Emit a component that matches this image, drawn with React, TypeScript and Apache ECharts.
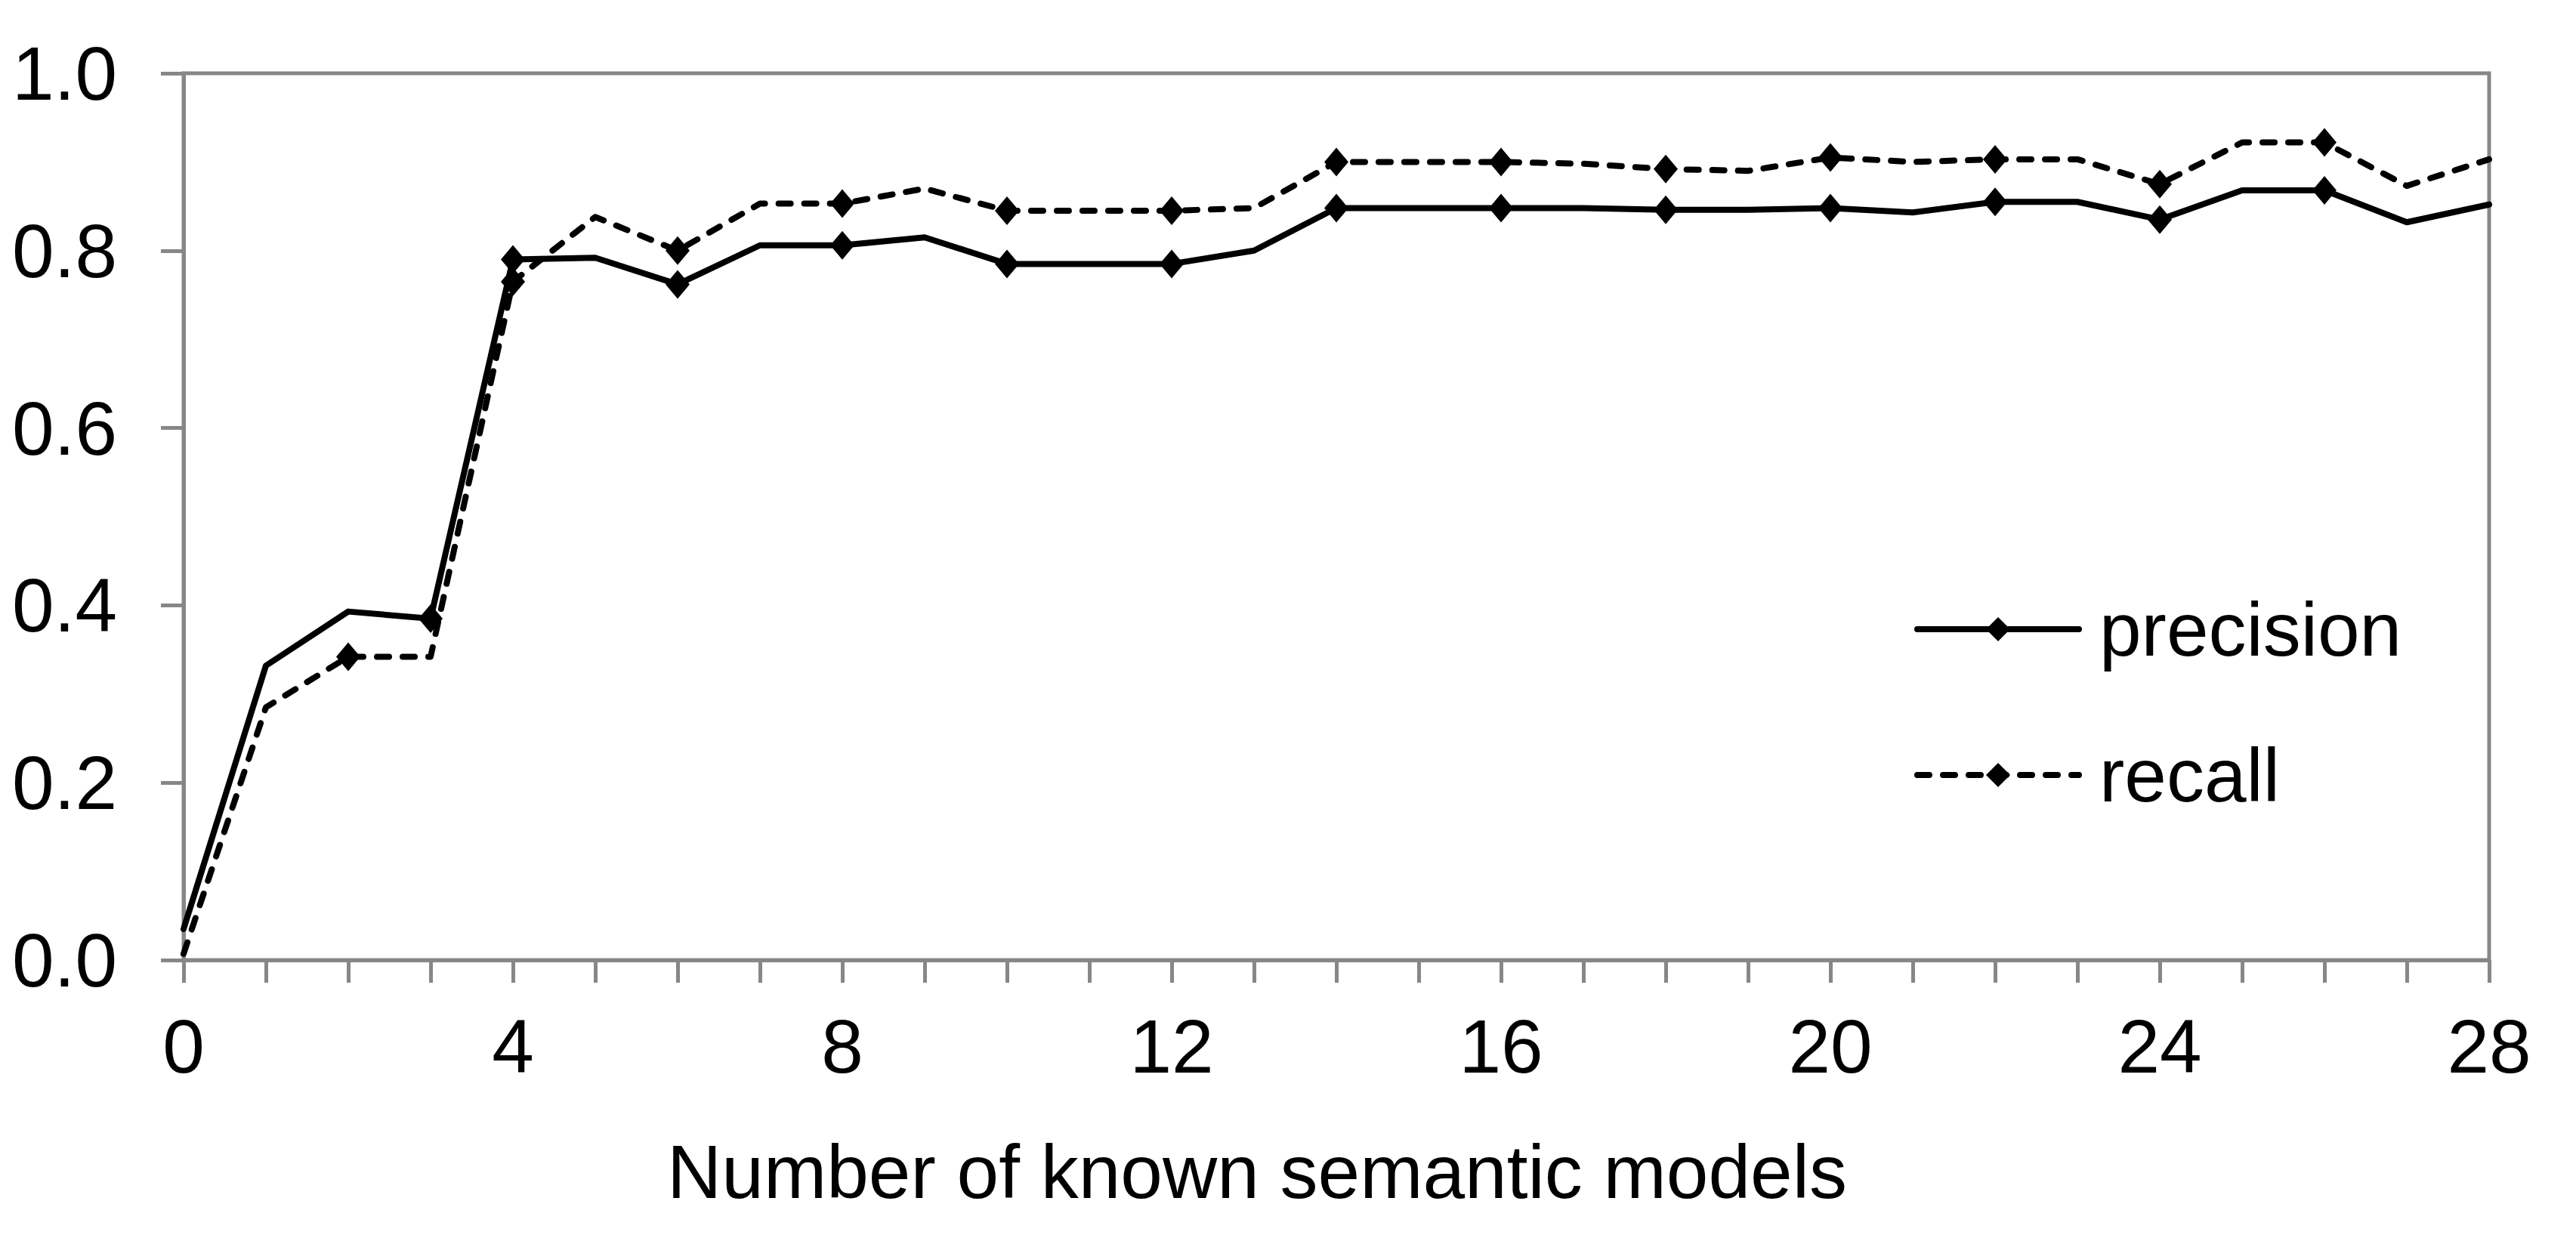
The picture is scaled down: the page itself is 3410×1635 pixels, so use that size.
import React, { useEffect, useRef } from "react";
import * as echarts from "echarts";

const modelCounts = [0, 1, 2, 3, 4, 5, 6, 7, 8, 9, 10, 11, 12, 13, 14, 15, 16, 17, 18, 19, 20, 21, 22, 23, 24, 25, 26, 27, 28];
const precision = [0.035, 0.332, 0.393, 0.385, 0.79, 0.792, 0.762, 0.806, 0.806, 0.815, 0.785, 0.785, 0.785, 0.8, 0.848, 0.848, 0.848, 0.848, 0.846, 0.846, 0.848, 0.843, 0.855, 0.855, 0.835, 0.868, 0.868, 0.832, 0.852];
const recall = [0.007, 0.285, 0.342, 0.342, 0.765, 0.838, 0.8, 0.853, 0.853, 0.87, 0.845, 0.845, 0.845, 0.848, 0.9, 0.9, 0.9, 0.898, 0.892, 0.89, 0.905, 0.9, 0.903, 0.903, 0.875, 0.922, 0.922, 0.873, 0.903];
const precisionMarked = [3, 4, 6, 8, 10, 12, 14, 16, 18, 20, 22, 24, 26];
const recallMarked = [2, 4, 6, 8, 10, 12, 14, 16, 18, 20, 22, 24, 26];
const xLabelStep = 4;
const seriesNames = ["precision", "recall"];
const xTitle = "Number of known semantic models";

const FONT = "'Liberation Sans', Arial, Helvetica, sans-serif";
const GREY = "#878787";

export default function App() {
  const ref = useRef<HTMLDivElement>(null);

  useEffect(() => {
    if (!ref.current) return;
    const chart = echarts.init(ref.current, null, { renderer: "svg" });

    const build = (vals: number[], marked: number[]) =>
      vals.map((v, i) => ({
        value: [modelCounts[i], v],
        symbol: marked.includes(modelCounts[i]) ? "diamond" : "none",
      }));

    const legendCommon = {
      orient: "vertical",
      left: 2529,
      itemWidth: 214,
      itemHeight: 40,
      lineStyle: { width: 8, color: "#000", cap: "round" },
      itemStyle: { color: "#000" },
      textStyle: {
        fontSize: 100,
        lineHeight: 100,
        fontFamily: FONT,
        color: "#000",
        padding: [0, 0, 0, 22],
      },
      selectedMode: false,
    };

    chart.setOption({
      animation: false,
      backgroundColor: "#fff",
      grid: {
        left: 243,
        right: 115,
        top: 97,
        bottom: 364,
        show: true,
        borderColor: GREY,
        borderWidth: 5,
        containLabel: false,
      },
      legend: [
        { ...legendCommon, top: 778, data: [seriesNames[0]] },
        { ...legendCommon, top: 971, data: [seriesNames[1]] },
      ],
      xAxis: {
        type: "value",
        min: 0,
        max: 28,
        interval: 1,
        splitLine: { show: false },
        axisLine: { show: true, lineStyle: { color: GREY, width: 5 } },
        axisTick: { show: true, length: 30, lineStyle: { color: GREY, width: 5 } },
        axisLabel: {
          fontSize: 100,
          lineHeight: 100,
          fontFamily: FONT,
          color: "#000",
          margin: 64,
          showMinLabel: true,
          showMaxLabel: true,
          formatter: (v: number) => (v % xLabelStep === 0 ? String(v) : ""),
        },
        name: xTitle,
        nameLocation: "middle",
        nameGap: 230,
        nameTextStyle: {
          fontSize: 100,
          lineHeight: 100,
          fontFamily: FONT,
          color: "#000",
          padding: [0, 210, 0, 0],
        },
      },
      yAxis: {
        type: "value",
        min: 0,
        max: 1,
        interval: 0.2,
        splitLine: { show: false },
        axisLine: { show: true, lineStyle: { color: GREY, width: 5 } },
        axisTick: { show: true, length: 30, lineStyle: { color: GREY, width: 5 } },
        axisLabel: {
          fontSize: 100,
          lineHeight: 100,
          fontFamily: FONT,
          color: "#000",
          margin: 88,
          formatter: (v: number) => v.toFixed(1),
        },
      },
      series: [
        {
          name: seriesNames[0],
          type: "line",
          data: build(precision, precisionMarked),
          symbol: "diamond",
          symbolSize: [32, 38],
          showAllSymbol: true,
          lineStyle: { color: "#000", width: 8, type: "solid", cap: "round", join: "round" },
          itemStyle: { color: "#000" },
          z: 3,
        },
        {
          name: seriesNames[1],
          type: "line",
          data: build(recall, recallMarked),
          symbol: "diamond",
          symbolSize: [32, 38],
          showAllSymbol: true,
          lineStyle: { color: "#000", width: 8, type: [16, 18], cap: "round", join: "round" },
          itemStyle: { color: "#000" },
          z: 2,
        },
      ],
    });

    return () => chart.dispose();
  }, []);

  return (
    <div
      ref={ref}
      style={{ position: "fixed", left: 0, top: 0, width: 3410, height: 1635, background: "#fff" }}
    />
  );
}
